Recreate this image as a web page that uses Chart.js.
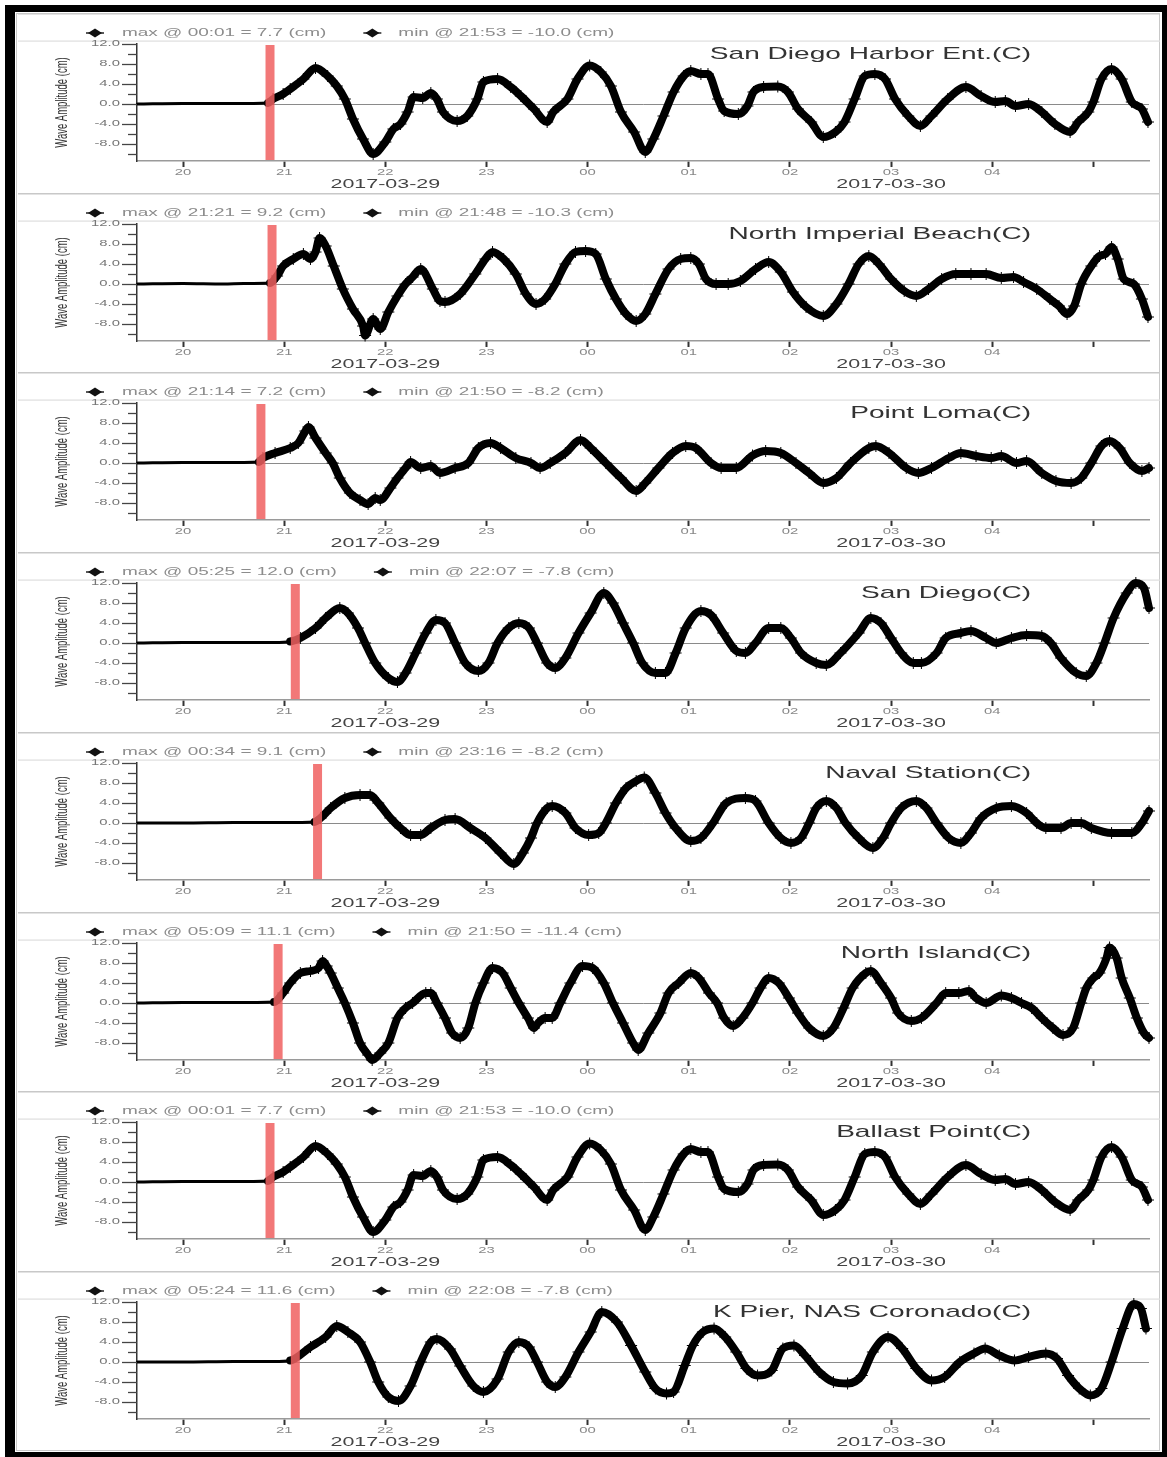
<!DOCTYPE html>
<html>
<head>
<meta charset="utf-8">
<title>Tide gauge wave amplitude, 2017-03-29/30</title>
<script src="https://cdn.jsdelivr.net/npm/chart.js@4.4.1/dist/chart.umd.min.js"></script>
<style>
    body { margin: 0; background: #fff; }
    #frame { position: absolute; left: 5px; top: 5px; width: 1162px; height: 1452px; background: #000; }
    #sheet { position: absolute; left: 15px; top: 12px; width: 1147px; height: 1440px; background: #fff; }
    #box { position: absolute; left: 16px; top: 13px; width: 1142px; height: 1436px; border: 1.5px solid #c8c8c8; }
    canvas.panel { position: absolute; left: 18px; }
</style>
</head>
<body>
<div id="frame"></div>
<div id="sheet"></div>
<div id="box"></div>
<div id="panels"></div>
<script>

//Station names and the legend lines above each trace
const stationNames = ['San Diego Harbor Ent.(C)', 'North Imperial Beach(C)', 'Point Loma(C)', 'San Diego(C)',
    'Naval Station(C)', 'North Island(C)', 'Ballast Point(C)', 'K Pier, NAS Coronado(C)'];
const maxLabels = ['max @ 00:01 = 7.7 (cm)', 'max @ 21:21 = 9.2 (cm)', 'max @ 21:14 = 7.2 (cm)', 'max @ 05:25 = 12.0 (cm)',
    'max @ 00:34 = 9.1 (cm)', 'max @ 05:09 = 11.1 (cm)', 'max @ 00:01 = 7.7 (cm)', 'max @ 05:24 = 11.6 (cm)'];
const minLabels = ['min @ 21:53 = -10.0 (cm)', 'min @ 21:48 = -10.3 (cm)', 'min @ 21:50 = -8.2 (cm)', 'min @ 22:07 = -7.8 (cm)',
    'min @ 23:16 = -8.2 (cm)', 'min @ 21:50 = -11.4 (cm)', 'min @ 21:53 = -10.0 (cm)', 'min @ 22:08 = -7.8 (cm)'];

//First arrival (hours from 2017-03-29 00:00), marked with the red bar
const arrivalHours = [20.86, 20.88, 20.77, 21.11, 21.33, 20.94, 20.86, 21.11];

//Axis ticks
const hourTicks = [20, 21, 22, 23, 24, 25, 26, 27, 28, 29];
const hourLabels = ['20', '21', '22', '23', '00', '01', '02', '03', '04', ''];
const ampTicks = [-10, -8, -6, -4, -2, 0, 2, 4, 6, 8, 10, 12];
const ampLabelTicks = [-8, -4, 0, 4, 8, 12];
const dateLabels = ['2017-03-29', '2017-03-30'];
const dateHours = [22, 27];
const timeRange = [19.545, 29.55];
const ampRange = [-11.4, 12];

//Traces: time in hours from 2017-03-29 00:00, amplitude in cm
const harborEntTime = [19.55, 20.0, 20.5, 20.84, 20.89, 20.99, 21.06, 21.19, 21.31, 21.43, 21.52, 21.60, 21.68, 21.78, 21.88,
    22.00, 22.08, 22.15, 22.22, 22.28, 22.37, 22.45, 22.51, 22.57, 22.71, 22.81, 22.91, 22.97, 23.11, 23.24, 23.34, 23.47,
    23.60, 23.66, 23.80, 23.90, 24.02, 24.13, 24.23, 24.33, 24.46, 24.57, 24.65, 24.75, 24.85, 24.95, 25.02, 25.12, 25.19,
    25.29, 25.35, 25.49, 25.58, 25.64, 25.74, 25.88, 25.98, 26.08, 26.21, 26.33, 26.45, 26.54, 26.64, 26.74, 26.84, 26.94,
    27.04, 27.17, 27.29, 27.40, 27.56, 27.74, 27.89, 28.03, 28.13, 28.23, 28.36, 28.49, 28.62, 28.77, 28.85, 28.95, 29.00,
    29.08, 29.18, 29.28, 29.38, 29.48, 29.54];
const harborEntAmp = [0, 0.1, 0.1, 0.2, 1, 2, 3, 5, 7.2, 5.6, 3.6, 1, -3, -7, -10,
    -7.6, -5, -4, -1.6, 1.4, 1.2, 2.2, 1, -1.6, -3.4, -2.4, 1, 4.4, 5, 3.4, 1.6, -1,
    -3.6, -1.6, 1, 5, 7.7, 6.4, 3.6, -1.6, -5.6, -9.6, -7, -2.4, 2.4, 5.6, 6.6, 6, 6,
    1, -1.4, -2, -0.4, 2.4, 3.4, 3.5, 2.4, -1, -3.6, -6.6, -5.6, -3.6, 1, 5.6, 6, 5,
    1, -2.4, -4.4, -2.4, 1, 3.4, 1.6, 0.4, 0.6, -0.4, 0, -1.6, -4, -5.6, -3.6, -1.6, 0.4,
    5, 7, 5, 0.4, -1, -3.6];

const impBeachTime = [19.55, 20.0, 20.4, 20.6, 20.86, 20.93, 20.99, 21.09, 21.19, 21.26, 21.31, 21.35, 21.41, 21.49, 21.58,
    21.68, 21.78, 21.80, 21.88, 21.95, 22.03, 22.12, 22.20, 22.27, 22.35, 22.47, 22.54, 22.59, 22.74, 22.89, 22.99, 23.06,
    23.17, 23.29, 23.39, 23.49, 23.58, 23.68, 23.78, 23.88, 23.98, 24.08, 24.18, 24.28, 24.38, 24.48, 24.57, 24.67, 24.80,
    24.92, 25.02, 25.10, 25.17, 25.27, 25.39, 25.51, 25.66, 25.79, 25.91, 26.03, 26.16, 26.33, 26.46, 26.58, 26.68, 26.78,
    26.88, 27.00, 27.13, 27.25, 27.37, 27.50, 27.64, 27.79, 27.94, 28.09, 28.21, 28.31, 28.44, 28.57, 28.66, 28.74, 28.81,
    28.88, 28.98, 29.06, 29.12, 29.18, 29.24, 29.30, 29.40, 29.48, 29.54];
const impBeachAmp = [0, 0.1, 0, 0.1, 0.2, 1.6, 3.6, 5, 6, 5, 6.4, 9.2, 7.6, 3.6, -1,
    -5, -8.4, -10.3, -7, -9, -5.6, -2.4, 0, 1.4, 3, -1, -3.4, -3.6, -2, 2, 5, 6.4,
    5, 2, -2, -4, -3, 0, 4, 6.4, 6.6, 6, 1, -3, -6, -7.4, -6, -2, 3,
    5, 5.2, 4, 1, 0, 0, 0.6, 3, 4.4, 2.4, -1.6, -4.6, -6.4, -4, 0, 4, 5.6,
    4, 1, -1.4, -2.4, -1, 1, 2, 2, 2, 1.2, 1.4, 0.4, -1, -3, -4.4, -6, -4.4,
    0, 3.6, 5.6, 6, 7.4, 5, 1, 0, -3, -6.6];

const pointLomaTime = [19.55, 20.0, 20.4, 20.75, 20.79, 20.91, 21.06, 21.14, 21.21, 21.24, 21.31, 21.41, 21.48, 21.55, 21.65,
    21.75, 21.83, 21.90, 21.95, 22.05, 22.12, 22.20, 22.25, 22.35, 22.45, 22.54, 22.69, 22.82, 22.92, 23.04, 23.14, 23.29,
    23.44, 23.53, 23.63, 23.78, 23.93, 24.03, 24.18, 24.33, 24.48, 24.57, 24.70, 24.84, 24.97, 25.07, 25.22, 25.32, 25.47,
    25.63, 25.76, 25.91, 26.06, 26.19, 26.33, 26.46, 26.60, 26.78, 26.85, 26.98, 27.15, 27.27, 27.40, 27.57, 27.69, 27.84,
    27.99, 28.09, 28.24, 28.34, 28.49, 28.63, 28.78, 28.88, 28.98, 29.08, 29.16, 29.26, 29.36, 29.48, 29.55];
const pointLomaAmp = [0, 0.1, 0.1, 0.2, 1, 2, 3, 4, 6.4, 7.2, 5, 2, 0, -3, -6,
    -7.4, -8.2, -7, -7.4, -5, -3, -1, 0.2, -1, -0.6, -2, -1, 0, 3, 4, 3, 1,
    0, -1, 0, 2, 4.6, 3, 0, -3, -5.6, -4, -1, 2, 3.4, 3, 0, -1, -1,
    1.5, 2.4, 2, 0, -2, -4, -3, 0, 3, 3.4, 2, -1, -2, -1, 1, 2, 1.4,
    1, 1.4, 0, 0.4, -2, -3.6, -4, -3, 0, 3.4, 4.4, 3, 0, -1.6, -1];

const sanDiegoTime = [19.55, 20.0, 20.5, 20.9, 21.06, 21.16, 21.31, 21.41, 21.55, 21.63, 21.73, 21.80, 21.90, 22.03, 22.12,
    22.20, 22.30, 22.40, 22.50, 22.59, 22.69, 22.79, 22.92, 23.02, 23.11, 23.22, 23.32, 23.42, 23.50, 23.60, 23.68, 23.78,
    23.91, 24.03, 24.16, 24.25, 24.35, 24.45, 24.54, 24.67, 24.77, 24.87, 24.97, 25.12, 25.22, 25.34, 25.47, 25.56, 25.66,
    25.79, 25.91, 26.01, 26.11, 26.26, 26.36, 26.50, 26.68, 26.80, 26.90, 27.00, 27.10, 27.22, 27.30, 27.45, 27.54, 27.69,
    27.79, 27.94, 28.04, 28.19, 28.34, 28.49, 28.58, 28.68, 28.83, 28.93, 29.03, 29.11, 29.20, 29.33, 29.42, 29.50, 29.55];
const sanDiegoAmp = [0, 0.1, 0.1, 0.1, 0.3, 1, 3, 5, 7, 6, 3, 0, -4, -7, -7.8,
    -6, -2, 2, 4.6, 4, 0, -4, -5.6, -4, 0, 3, 4, 3, 0, -4, -5, -3,
    2, 6, 10, 8, 4, 0, -4, -6, -6, -2, 3, 6.4, 5.6, 2, -1.6, -2, 0,
    3, 3, 1, -2, -4, -4.4, -2, 2, 5, 4, 1, -2, -4, -4, -2, 1, 2,
    2.4, 1, 0, 1, 1.6, 1.4, 0, -3, -6, -6.6, -4, 0, 5, 10, 12, 11, 7];

const navalStationTime = [19.55, 20.0, 20.5, 21.0, 21.3, 21.36, 21.46, 21.60, 21.75, 21.85, 21.93, 22.05, 22.15, 22.25, 22.35,
    22.45, 22.59, 22.69, 22.84, 22.99, 23.14, 23.27, 23.36, 23.44, 23.50, 23.60, 23.65, 23.78, 23.88, 24.01, 24.11, 24.18,
    24.28, 24.38, 24.48, 24.56, 24.67, 24.77, 24.87, 25.02, 25.12, 25.24, 25.37, 25.56, 25.66, 25.79, 25.91, 26.01, 26.11,
    26.19, 26.26, 26.36, 26.46, 26.55, 26.68, 26.82, 26.92, 27.00, 27.10, 27.25, 27.35, 27.45, 27.57, 27.69, 27.79, 27.89,
    28.04, 28.19, 28.34, 28.44, 28.53, 28.68, 28.78, 28.88, 28.98, 29.18, 29.38, 29.48, 29.55];
const navalStationAmp = [0, 0, 0.1, 0.1, 0.2, 1, 3, 5, 5.6, 5.6, 4, 1, -1, -2.4, -2.4,
    -1, 0.6, 0.8, -1, -3, -6, -8.2, -6, -3, 0, 3, 3.4, 2, -1, -2.4, -2, 0,
    4, 7, 8.4, 9.1, 6, 2, -1, -3.6, -3, 0, 4, 5, 4.4, 0, -3, -4, -3,
    0, 3, 4.4, 3, 0, -3, -5, -3, 0, 3, 4.4, 3, 0, -3, -4, -2, 1,
    3, 3.4, 2, 0, -1, -1, 0, 0, -1, -2, -2, 0, 2.4];

const northIslandTime = [19.55, 20.0, 20.5, 20.9, 20.99, 21.06, 21.16, 21.26, 21.34, 21.38, 21.42, 21.46, 21.53, 21.60, 21.68,
    21.75, 21.83, 21.87, 21.95, 22.03, 22.12, 22.20, 22.27, 22.40, 22.45, 22.51, 22.59, 22.66, 22.74, 22.82, 22.89, 22.97,
    23.06, 23.16, 23.24, 23.32, 23.41, 23.47, 23.51, 23.58, 23.65, 23.73, 23.83, 23.95, 24.05, 24.16, 24.25, 24.35, 24.45,
    24.50, 24.60, 24.72, 24.80, 24.90, 25.02, 25.10, 25.20, 25.28, 25.35, 25.44, 25.53, 25.63, 25.71, 25.79, 25.89, 25.99,
    26.08, 26.19, 26.33, 26.43, 26.53, 26.62, 26.75, 26.80, 26.90, 27.00, 27.07, 27.20, 27.30, 27.45, 27.54, 27.67, 27.77,
    27.84, 27.94, 28.09, 28.19, 28.29, 28.39, 28.49, 28.60, 28.70, 28.80, 28.88, 28.93, 29.00, 29.06, 29.13, 29.16, 29.23,
    29.28, 29.36, 29.43, 29.50, 29.55];
const northIslandAmp = [0, 0.1, 0.1, 0.2, 2, 4, 6, 6.4, 7, 8.4, 7.4, 6, 3, 0, -4,
    -8, -10.4, -11.4, -10, -8, -3, -1, 0, 2, 2, 0, -3, -6, -7, -5, 0, 4,
    7, 6, 3, 0, -3, -5, -4, -3, -3, 0, 4, 7.4, 7, 4, 0, -4, -8,
    -9.4, -6, -2, 2, 4, 6, 5, 2, 0, -3, -4.6, -3, 0, 3, 5, 4, 1,
    -2, -5, -6.6, -5, -1, 3, 6, 6.4, 4, 1, -2, -3.6, -3, 0, 2, 2, 2.4,
    1, 0, 1.5, 1, 0, -1, -3, -5, -6.4, -5, 0, 3, 5, 6, 9, 11.1, 9,
    5, 1, -3, -6, -7];

//Ballast Point reads the same as the harbor entrance gauge
const ballastPointTime = harborEntTime;
const ballastPointAmp = harborEntAmp;

const kPierTime = [19.55, 20.0, 20.5, 20.9, 21.06, 21.26, 21.41, 21.52, 21.63, 21.75, 21.85, 21.93, 22.03, 22.13, 22.25,
    22.35, 22.45, 22.51, 22.64, 22.74, 22.87, 22.97, 23.11, 23.22, 23.32, 23.42, 23.50, 23.60, 23.68, 23.78, 23.91, 24.03,
    24.14, 24.29, 24.43, 24.57, 24.67, 24.78, 24.85, 24.96, 25.04, 25.14, 25.25, 25.36, 25.47, 25.57, 25.68, 25.82, 25.93,
    26.04, 26.15, 26.29, 26.43, 26.57, 26.71, 26.82, 26.97, 27.11, 27.25, 27.40, 27.53, 27.68, 27.82, 27.93, 28.07, 28.22,
    28.36, 28.53, 28.64, 28.75, 28.86, 28.97, 29.08, 29.18, 29.29, 29.40, 29.47, 29.52];
const kPierAmp = [0, 0, 0.1, 0.1, 0.3, 3, 5, 7.2, 6, 4, 0, -4, -7, -7.8, -4.8,
    0, 4, 4.6, 2.6, -0.8, -4.8, -6, -3.4, 2, 4, 3, 0, -4, -5, -3, 2, 6,
    10, 8, 3.3, -2, -5.3, -6.3, -6, -0.7, 3.3, 6, 6.7, 5, 2, -1.3, -2.7, -1.7, 2.7,
    3.3, 1.3, -2, -4, -4.3, -2.7, 2, 5, 2.7, -1.3, -3.7, -3, 0, 1.7, 2.7, 1.3, 0.3,
    1, 1.7, 0.7, -2.7, -5.3, -6.7, -5.3, 0, 6.7, 11.6, 10.7, 6.7];

const stationTimes = [harborEntTime, impBeachTime, pointLomaTime, sanDiegoTime, navalStationTime, northIslandTime, ballastPointTime, kPierTime];
const stationAmps = [harborEntAmp, impBeachAmp, pointLomaAmp, sanDiegoAmp, navalStationAmp, northIslandAmp, ballastPointAmp, kPierAmp];

//Lettering in these plots is wide, so every label gets stretched sideways
const STRETCH = 1.65;
const FONT = '"Liberation Sans", Arial, sans-serif';
const PANEL_W = 1142, PANEL_H = 180, PANEL_STEP = 179.7, PANEL_TOP = 13;

function wideText(ctx, text, x, y, align, size, color) {
    ctx.save();
    ctx.font = size + 'px ' + FONT;
    ctx.fillStyle = color;
    ctx.textBaseline = 'middle';
    ctx.textAlign = 'left';
    const w = ctx.measureText(text).width * STRETCH;
    let left = x;
    if (align === 'right') left = x - w;
    else if (align === 'center') left = x - w / 2;
    ctx.translate(left, y);
    ctx.scale(STRETCH, 1);
    ctx.fillText(text, 0, 0);
    ctx.restore();
    return left + w;
}

function legendMark(ctx, x, y) {
    ctx.save();
    ctx.strokeStyle = '#222';
    ctx.lineWidth = 1.5;
    ctx.beginPath();
    ctx.moveTo(x - 9, y);
    ctx.lineTo(x + 9, y);
    ctx.stroke();
    ctx.fillStyle = '#111';
    ctx.beginPath();
    ctx.moveTo(x - 7, y);
    ctx.lineTo(x, y - 4.5);
    ctx.lineTo(x + 7, y);
    ctx.lineTo(x, y + 4.5);
    ctx.closePath();
    ctx.fill();
    ctx.restore();
}

const panelDecor = {
    id: 'panelDecor',
    beforeDraw(chart, args, opts) {
        const ctx = chart.ctx;
        ctx.save();
        ctx.fillStyle = '#c8c8c8';
        ctx.fillRect(0, 0, PANEL_W, 1.5);
        ctx.fillStyle = '#dedede';
        ctx.fillRect(0, 27.5, PANEL_W, 1.2);
        ctx.restore();
    },
    afterDatasetsDraw(chart, args, opts) {
        //arrival bar
        const ctx = chart.ctx;
        const area = chart.chartArea;
        const px = chart.scales.x.getPixelForValue(opts.arrival);
        ctx.save();
        ctx.fillStyle = 'rgba(240, 96, 96, 0.85)';
        ctx.fillRect(px - 4.5, area.top + 1, 9, area.bottom - area.top - 2);
        ctx.restore();
    },
    afterDraw(chart, args, opts) {
        const ctx = chart.ctx;
        const area = chart.chartArea;
        const xs = chart.scales.x;
        const ys = chart.scales.y;

        //legend row
        legendMark(ctx, 77, 20);
        const end = wideText(ctx, opts.maxText, 104, 20, 'left', 11.5, '#8c8c8c');
        legendMark(ctx, end + 46, 20);
        wideText(ctx, opts.minText, end + 72, 20, 'left', 11.5, '#8c8c8c');

        //station name
        wideText(ctx, opts.name, 1013, 41, 'right', 17, '#333');

        //amplitude ticks, long ones carry a label
        ctx.save();
        ctx.strokeStyle = '#444';
        ctx.lineWidth = 1.3;
        ampTicks.forEach(v => {
            const py = Math.round(ys.getPixelForValue(v)) + 0.5;
            const len = ampLabelTicks.includes(v) ? 15 : 9;
            ctx.beginPath();
            ctx.moveTo(area.left - len, py);
            ctx.lineTo(area.left, py);
            ctx.stroke();
        });
        ctx.restore();
        ampLabelTicks.forEach(v => {
            wideText(ctx, v.toFixed(1), area.left - 17, ys.getPixelForValue(v), 'right', 9, '#777');
        });

        //axis title, stretched across its glyph height
        ctx.save();
        ctx.font = '9.5px ' + FONT;
        ctx.fillStyle = '#333';
        ctx.textAlign = 'center';
        ctx.textBaseline = 'middle';
        ctx.translate(45, (area.top + area.bottom) / 2);
        ctx.rotate(-Math.PI / 2);
        ctx.scale(1, STRETCH);
        ctx.fillText('Wave Amplitude (cm)', 0, 0);
        ctx.restore();

        //hour labels and dates
        hourTicks.forEach((h, i) => {
            if (hourLabels[i]) wideText(ctx, hourLabels[i], xs.getPixelForValue(h), area.bottom + 12, 'center', 9, '#888');
        });
        dateLabels.forEach((d, i) => {
            wideText(ctx, d, xs.getPixelForValue(dateHours[i]), area.bottom + 23, 'center', 13, '#444');
        });
    }
};

document.addEventListener("DOMContentLoaded", (event) => {
    const holder = document.getElementById('panels');

    for (let i = 0; i < stationNames.length; i++) {
        const canvas = document.createElement('canvas');
        canvas.className = 'panel';
        canvas.width = PANEL_W;
        canvas.height = PANEL_H;
        canvas.style.top = Math.round(PANEL_TOP + i * PANEL_STEP) + 'px';
        holder.appendChild(canvas);

        const arrival = arrivalHours[i];
        const points = stationTimes[i].map((t, k) => ({x: t, y: stationAmps[i][k]}));

        const config = {
            type: 'line',
            data: {
                datasets: [{
                    data: points,
                    borderColor: '#000',
                    borderWidth: 8,
                    borderJoinStyle: 'round',
                    borderCapStyle: 'round',
                    cubicInterpolationMode: 'monotone',
                    segment: {
                        borderWidth: c => c.p1.parsed.x <= arrival ? 3 : 8
                    },
                    pointStyle: 'cross',
                    pointRadius: c => (c.raw && c.raw.x > arrival) ? 6 : 0,
                    pointBorderWidth: 1,
                    pointBorderColor: '#000',
                    clip: 6
                }]
            },
            options: {
                responsive: false,
                animation: false,
                events: [],
                layout: {
                    padding: {top: 31, right: 11, left: 0, bottom: 0}
                },
                scales: {
                    x: {
                        type: 'linear',
                        min: timeRange[0],
                        max: timeRange[1],
                        afterBuildTicks: axis => { axis.ticks = hourTicks.map(v => ({value: v})); },
                        afterFit: axis => { axis.height = 32; },
                        ticks: {display: false},
                        grid: {
                            drawOnChartArea: false,
                            drawTicks: true,
                            tickLength: 6,
                            tickWidth: 2,
                            tickColor: '#333'
                        },
                        border: {color: '#9a9a9a', width: 1.5}
                    },
                    y: {
                        min: ampRange[0],
                        max: ampRange[1],
                        afterBuildTicks: axis => { axis.ticks = ampLabelTicks.map(v => ({value: v})); },
                        afterFit: axis => { axis.width = 119; },
                        ticks: {display: false},
                        grid: {
                            drawTicks: false,
                            lineWidth: 1,
                            color: c => c.tick && c.tick.value === 0 ? '#8a8a8a' : 'rgba(0,0,0,0)'
                        },
                        border: {color: '#333', width: 1.5}
                    }
                },
                plugins: {
                    legend: {display: false},
                    tooltip: {enabled: false},
                    panelDecor: {
                        arrival: arrival,
                        name: stationNames[i],
                        maxText: maxLabels[i],
                        minText: minLabels[i]
                    }
                }
            },
            plugins: [panelDecor]
        };
        new Chart(canvas, config);
    }
});
</script>
</body>
</html>
